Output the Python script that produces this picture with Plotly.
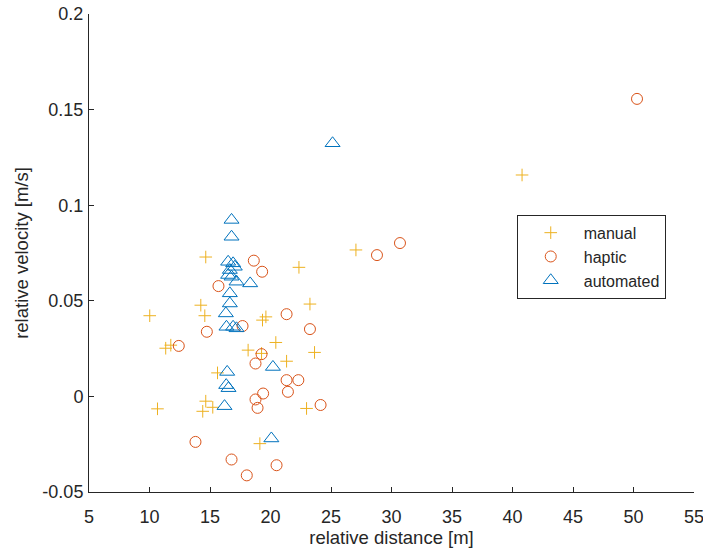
import plotly.graph_objects as go

manual_x = [14.65, 14.24, 14.57, 10.02, 11.34, 11.76, 15.62, 14.65, 14.40, 15.23, 10.66,
            22.35, 27.06, 23.26, 19.62, 19.34, 20.44, 18.15, 19.26, 21.33, 23.64, 22.98,
            19.12, 40.79]
manual_y = [0.0729, 0.0477, 0.0422, 0.0422, 0.0252, 0.0268, 0.0123, -0.0025, -0.0078, -0.0057,
            -0.0065, 0.0675, 0.0766, 0.0483, 0.0416, 0.0399, 0.0282, 0.0242, 0.0225, 0.0184,
            0.0230, -0.0063, -0.0247, 0.1158]

haptic_x = [15.70, 14.74, 12.42, 13.80, 16.78, 18.04, 18.62, 19.31, 21.33, 17.69, 23.26,
            19.26, 18.76, 21.33, 22.30, 21.44, 19.39, 18.76, 18.93, 24.14, 20.50, 28.80,
            30.70, 50.29]
haptic_y = [0.0577, 0.0338, 0.0264, -0.0238, -0.0330, -0.0413, 0.0710, 0.0652, 0.0430, 0.0368,
            0.0352, 0.0221, 0.0172, 0.0085, 0.0085, 0.0024, 0.0015, -0.0016, -0.0060, -0.0045,
            -0.0360, 0.0739, 0.0802, 0.1556]

auto_x = [16.78, 16.78, 16.50, 16.91, 17.05, 16.64, 16.50, 16.78, 17.19, 18.32, 16.64, 16.64,
          16.31, 16.36, 16.91, 17.19, 16.42, 16.34, 16.53, 16.20, 20.20, 20.07, 25.13]
auto_y = [0.0923, 0.0835, 0.0704, 0.0696, 0.0678, 0.0661, 0.0635, 0.0626, 0.0600, 0.0591,
          0.0539, 0.0486, 0.0434, 0.0364, 0.0364, 0.0356, 0.0128, 0.0059, 0.0043, -0.0051,
          0.0154, -0.0220, 0.1324]

x_ticks = [5, 10, 15, 20, 25, 30, 35, 40, 45, 50, 55]
y_ticks = [-0.05, 0, 0.05, 0.1, 0.15, 0.2]
y_tick_labels = ["-0.05", "0", "0.05", "0.1", "0.15", "0.2"]

C_MANUAL = "#EDB120"
C_HAPTIC = "#D95319"
C_AUTO = "#0072BD"

fig = go.Figure()
fig.add_trace(go.Scatter(x=manual_x, y=manual_y, mode="markers", name="manual",
                         marker=dict(symbol="cross-thin-open", size=9, color=C_MANUAL,
                                     line=dict(color=C_MANUAL, width=1))))
fig.add_trace(go.Scatter(x=haptic_x, y=haptic_y, mode="markers", name="haptic",
                         marker=dict(symbol="circle-open", size=11, color=C_HAPTIC,
                                     line=dict(color=C_HAPTIC, width=1))))
fig.add_trace(go.Scatter(x=auto_x, y=auto_y, mode="markers", name="automated",
                         marker=dict(symbol="triangle-up-open", size=13, color=C_AUTO,
                                     line=dict(color=C_AUTO, width=1))))

font_family = "Liberation Sans, Arial, sans-serif"
axis_color = "#262626"

fig.update_layout(
    width=703, height=552,
    margin=dict(l=89, r=9, t=14, b=60, autoexpand=False),
    paper_bgcolor="white", plot_bgcolor="white",
    font=dict(family=font_family, size=16, color=axis_color),
    showlegend=True,
    legend=dict(x=0.707, y=0.58, xanchor="left", yanchor="top",
                bordercolor=axis_color, borderwidth=1, bgcolor="white",
                font=dict(family=font_family, size=16, color=axis_color),
                tracegroupgap=0, itemwidth=56),
    xaxis=dict(range=[5, 55], tickvals=x_ticks, ticktext=[str(v) for v in x_ticks],
               showgrid=False, zeroline=False, showline=True, linecolor=axis_color,
               linewidth=1, ticks="inside", ticklen=5, tickcolor=axis_color,
               tickfont=dict(size=18, color=axis_color), ticklabelstandoff=8,
               ticklabeloverflow="allow",
               title=dict(text="relative distance [m]", font=dict(size=18.5, color=axis_color),
                          standoff=3)),
    yaxis=dict(range=[-0.05, 0.2], tickvals=y_ticks, ticktext=y_tick_labels,
               showgrid=False, zeroline=False, showline=True, linecolor=axis_color,
               linewidth=1, ticks="inside", ticklen=5, tickcolor=axis_color,
               tickfont=dict(size=18, color=axis_color), ticklabelstandoff=1,
               ticklabeloverflow="allow",
               title=dict(text="relative velocity [m/s]", font=dict(size=18.5, color=axis_color),
                          standoff=8)),
)

fig.write_html("out.html")
